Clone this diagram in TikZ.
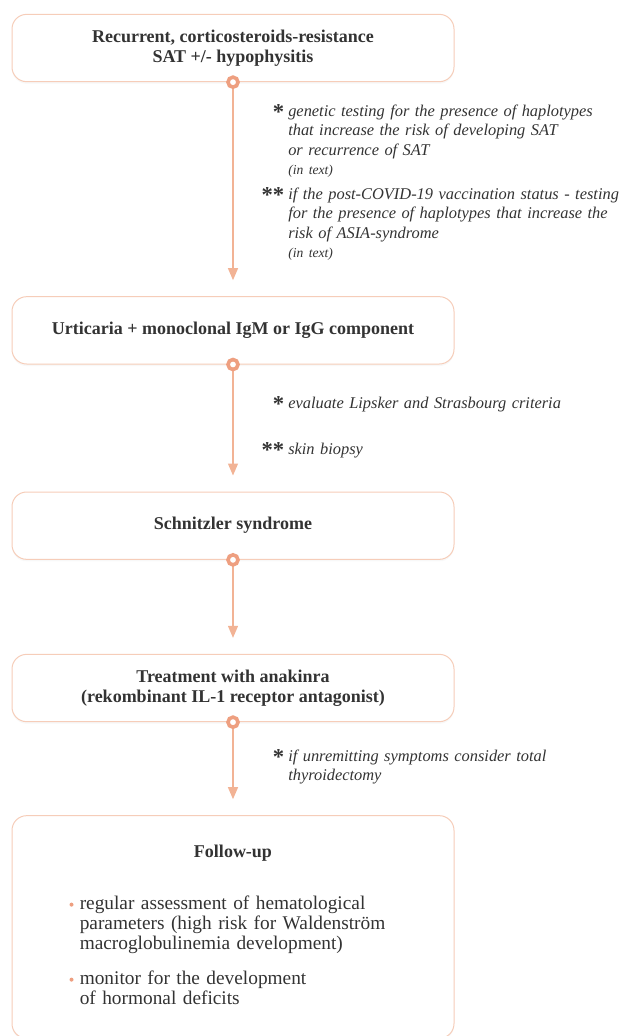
\documentclass[tikz,border=0pt]{standalone}
\usepackage{fontspec}
\setmainfont{Liberation Serif}
\usepackage{tikz}
\usetikzlibrary{arrows.meta,positioning,shadows}
\definecolor{boxline}{HTML}{F6CDB9}
\definecolor{arrowcol}{HTML}{F2B395}
\definecolor{knobcol}{HTML}{EE9F80}
\definecolor{ink}{HTML}{333333}
\newcommand\stepfont{\fontsize{13.5pt}{15pt}\selectfont\bfseries}
\newcommand\annfont{\fontsize{12.3pt}{14.8pt}\selectfont\itshape}
\newcommand\annsmall{\fontsize{10.2pt}{14.8pt}\selectfont}
\newcommand\itemfont{\fontsize{14.5pt}{15.2pt}\selectfont}
\newcommand\mk[1]{\llap{{\upshape\bfseries\fontsize{17pt}{15pt}\selectfont\raisebox{-2.5pt}{#1}}\hspace{3pt}}}
\tikzset{
    %Define standard arrow tip
    >={Triangle[width=7.5pt,length=9pt]},
    %Define style for boxes
    stepbox/.style={
           rectangle,
           rounded corners=11pt,
           draw=boxline, line width=0.75pt,
           fill=white,
           drop shadow={shadow xshift=0pt, shadow yshift=-1.5pt, opacity=0.06},
           minimum width=331.5pt,
           minimum height=50.5pt,
           align=center,
           text=ink,
           font=\stepfont},
    % Define style for side notes
    note/.style={
           anchor=base west,
           inner sep=0pt,
           text width=250pt,
           align=left,
           text=ink,
           font=\annfont},
    itemtext/.style={
           anchor=base west,
           inner sep=0pt,
           text width=280pt,
           align=left,
           text=ink,
           font=\itemfont},
    dot/.style={circle, fill=knobcol, inner sep=0pt, minimum size=3pt},
    knob/.style={
           circle,
           draw=knobcol, line width=2.7pt,
           fill=white,
           inner sep=0pt,
           minimum size=7.5pt,
           drop shadow={shadow xshift=0pt, shadow yshift=-1pt, opacity=0.12}},
    % Define arrow style
    conn/.style={
           ->,
           draw=arrowcol, fill=arrowcol,
           line width=0.9pt,
           shorten >=12pt}
}
\begin{document}
\begin{tikzpicture}
\useasboundingbox (0,0) rectangle (470.25pt,-777pt);
 %boxes
\node[stepbox] (srt) at (174.75pt,-36pt) {Recurrent, corticosteroids-resistance\\SAT +/- hypophysitis};
\node[stepbox, below=160.5pt of srt] (urt) {Urticaria + monoclonal IgM or IgG component};
\node[stepbox, below=95.25pt of urt] (schn) {Schnitzler syndrome};
\node[stepbox, below=70.5pt of schn] (treat) {Treatment with anakinra\\(rekombinant IL-1 receptor antagonist)};
\node[stepbox, minimum height=167pt, below=69.75pt of treat] (fup) {};

 %connectors
\path (srt.south) edge[conn] (urt.north)
      (urt.south) edge[conn] (schn.north)
      (schn.south) edge[conn] (treat.north)
      (treat.south) edge[conn] (fup.north);
\foreach \b in {srt,urt,schn,treat}
    \node[knob] (knob-\b) at (\b.south) {};

 %notes
\node[note] (gen) at ([xshift=41.25pt,yshift=-25.5pt]srt.south)
    {\mk{*}genetic testing for the presence of haplotypes\\that increase the risk of developing SAT\\or recurrence of SAT\\[-1pt]{\annsmall (in text)}};
\node[note] (covid) at ([xshift=41.25pt,yshift=-87.75pt]srt.south)
    {\mk{**}if the post-COVID-19 vaccination status - testing\\for the presence of haplotypes that increase the\\risk of ASIA-syndrome\\[-1pt]{\annsmall (in text)}};
\node[note] (lip) at ([xshift=41.25pt,yshift=-33pt]urt.south)
    {\mk{*}evaluate Lipsker and Strasbourg criteria};
\node[note] (bio) at ([xshift=41.25pt,yshift=-67.5pt]urt.south)
    {\mk{**}skin biopsy};
\node[note] (thyr) at ([xshift=41.25pt,yshift=-29.25pt]treat.south)
    {\mk{*}if unremitting symptoms consider total\\thyroidectomy};

 %follow-up content
\node[anchor=base, text=ink, font=\stepfont] (fuptitle) at ([yshift=-31.5pt]fup.north) {Follow-up};
\node[itemtext] (item1) at ([xshift=51pt,yshift=-70.5pt]fup.north west)
    {regular assessment of hematological\\parameters (high risk for Waldenström\\macroglobulinemia development)};
\node[itemtext] (item2) at ([xshift=51pt,yshift=-126.75pt]fup.north west)
    {monitor for the development\\of hormonal deficits};
\node[dot] (dot1) at ([xshift=-6pt,yshift=3.4pt]item1.base west) {};
\node[dot] (dot2) at ([xshift=-6pt,yshift=3.4pt]item2.base west) {};

\end{tikzpicture}
\end{document}
